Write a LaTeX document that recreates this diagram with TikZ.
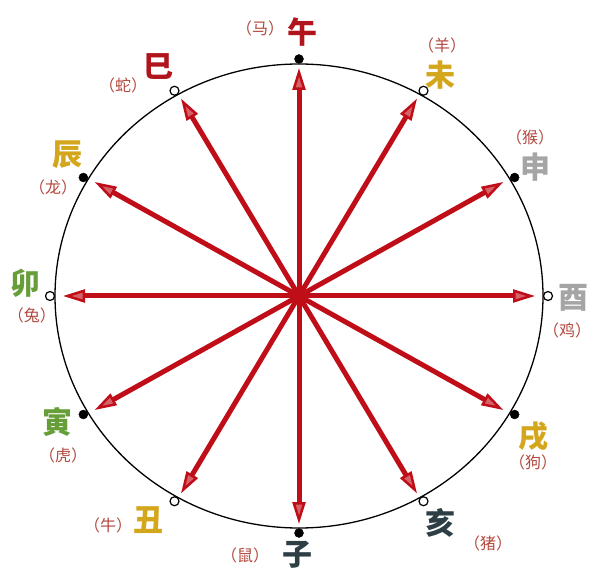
\documentclass[tikz,border=0pt]{standalone}
\usepackage{fontspec}
\newfontfamily\cjk{Noto Sans CJK SC}
\usetikzlibrary{arrows.meta}
\definecolor{arrowred}{RGB}{192,14,24}
\definecolor{branchred}{RGB}{178,20,30}
\definecolor{branchgold}{RGB}{212,166,28}
\definecolor{branchgreen}{RGB}{104,158,58}
\definecolor{branchgray}{RGB}{165,165,165}
\definecolor{branchslate}{RGB}{45,62,68}
\definecolor{animalred}{RGB}{178,72,62}

\begin{document}
\begin{tikzpicture}[x=1pt,y=1pt,
   branch/.style={font=\cjk\bfseries\fontsize{30}{30}\selectfont,inner sep=0pt},
   animal/.style={font=\cjk\fontsize{16}{16}\selectfont,text=animalred,inner sep=0pt},
   fulldot/.style={circle,draw,fill=black,inner sep=0pt,minimum size=9pt},
   opendot/.style={circle,draw,fill=white,line width=1.2pt,inner sep=0pt,minimum size=9pt},
   ray/.style={draw=arrowred,line width=5pt,
      -{Triangle[length=22pt,width=13pt,fill=arrowred!65!white,line width=2.5pt]}}]
\useasboundingbox (0,0) rectangle (600,579);
\coordinate (o) at (299,283);
\draw[line width=1.3pt] (o) ellipse [x radius=244, y radius=232];
% dots on the rim and arrows from the centre
\foreach \a/\n/\s in {90/wu/fulldot,60/wei/opendot,30/shen/fulldot,0/you/opendot,
   -30/xu/fulldot,-60/hai/opendot,-90/zi/fulldot,-120/chou/opendot,
   -150/yin/fulldot,180/mao/opendot,150/chen/fulldot,120/si/opendot}{
  \node[\s] (d-\n) at ([shift={(o)}] \a:249pt and 237pt) {};
  \coordinate (t-\n) at ([shift={(o)}] \a:236pt and 228pt);
  \draw[ray] (o) -- (t-\n);
}
% branches
\node[branch,text=branchred]   (b-wu)   at (302,547) {午};
\node[branch,text=branchgold]  (b-wei)  at (440,504) {未};
\node[branch,text=branchgray]  (b-shen) at (535,412) {申};
\node[branch,text=branchgray]  (b-you)  at (573,281) {酉};
\node[branch,text=branchgold]  (b-xu)   at (533,142) {戌};
\node[branch,text=branchslate] (b-hai)  at (440,56)  {亥};
\node[branch,text=branchslate] (b-zi)   at (297,24)  {子};
\node[branch,text=branchgold]  (b-chou) at (148,59)  {丑};
\node[branch,text=branchgreen] (b-yin)  at (57,157)  {寅};
\node[branch,text=branchgreen] (b-mao)  at (25,296)  {卯};
\node[branch,text=branchgold]  (b-chen) at (67,424)  {辰};
\node[branch,text=branchred]   (b-si)   at (158,512) {巳};
% animals
\node[animal] (a-wu)   at (260,551) {（马）};
\node[animal] (a-wei)  at (442,534) {（羊）};
\node[animal] (a-shen) at (530,442) {（猴）};
\node[animal] (a-you)  at (567,249) {（鸡）};
\node[animal] (a-xu)   at (533,117) {（狗）};
\node[animal] (a-hai)  at (488,36)  {（猪）};
\node[animal] (a-zi)   at (245,24)  {（鼠）};
\node[animal] (a-chou) at (108,54)  {（牛）};
\node[animal] (a-yin)  at (63,124)  {（虎）};
\node[animal] (a-mao)  at (32,264)  {（兔）};
\node[animal] (a-chen) at (53,392)  {（龙）};
\node[animal] (a-si)   at (123,494) {（蛇）};
\end{tikzpicture}
\end{document}
